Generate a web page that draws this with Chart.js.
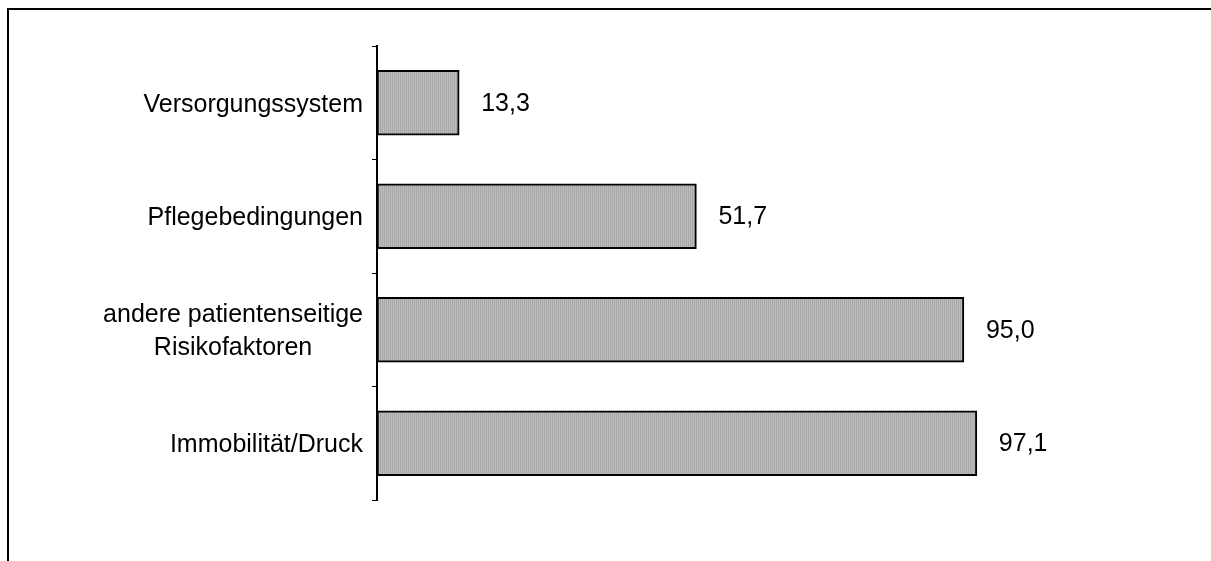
<!DOCTYPE html>
<html lang="de">
<head>
  <meta charset="UTF-8">
  <title>Risikofaktoren</title>
  <script src="https://cdn.jsdelivr.net/npm/chart.js"></script>
  <style>
    body {
      margin: 0;
      background: #fff;
      overflow: hidden;
    }
    .frame {
      position: absolute;
      left: 7px;
      top: 8px;
      width: 1300px;
      height: 700px;
      border-top: 2px solid #000;
      border-left: 2px solid #000;
    }
    .wrap {
      position: absolute;
      left: 0;
      top: 0;
      width: 1211px;
      height: 561px;
    }
  </style>
</head>
<body>

<div class="frame"></div>
<div class="wrap"><canvas id="chart" width="1211" height="561"></canvas></div>

<script>
  // data
  const categories = [
    'Versorgungssystem',
    'Pflegebedingungen',
    ['andere patientenseitige', 'Risikofaktoren'],
    'Immobilität/Druck'
  ];
  const values = [13.3, 51.7, 95.0, 97.1];

  const FONT = '25px "Liberation Sans", Arial, sans-serif';

  // grey fill with fine vertical lines
  function makeHatch(ctx) {
    const c = document.createElement('canvas');
    c.width = 2;
    c.height = 2;
    const p = c.getContext('2d');
    p.fillStyle = '#bcbcbc';
    p.fillRect(0, 0, 2, 2);
    p.fillStyle = '#a9a9a9';
    p.fillRect(0, 0, 1, 2);
    return ctx.createPattern(c, 'repeat');
  }

  // category labels, lines of a label centred on its widest line
  const catLabels = {
    id: 'catLabels',
    afterDraw(chart) {
      const ctx = chart.ctx;
      const y = chart.scales.y;
      const right = chart.chartArea.left - 14;
      ctx.save();
      ctx.font = FONT;
      ctx.fillStyle = '#000';
      ctx.textBaseline = 'middle';
      ctx.textAlign = 'center';
      categories.forEach((lab, i) => {
        const lines = Array.isArray(lab) ? lab : [lab];
        const widest = Math.max(...lines.map(l => ctx.measureText(l).width));
        const cx = right - widest / 2;
        const lh = 33;
        const cy = y.getPixelForValue(i) + 2;
        lines.forEach((l, k) => {
          ctx.fillText(l, cx, cy + (k - (lines.length - 1) / 2) * lh);
        });
      });
      ctx.restore();
    }
  };

  // value labels right of the bars, decimal comma
  const valueLabels = {
    id: 'valueLabels',
    afterDatasetsDraw(chart) {
      const ctx = chart.ctx;
      const meta = chart.getDatasetMeta(0);
      ctx.save();
      ctx.font = FONT;
      ctx.fillStyle = '#000';
      ctx.textBaseline = 'middle';
      ctx.textAlign = 'left';
      meta.data.forEach((bar, i) => {
        const txt = values[i].toFixed(1).replace('.', ',');
        ctx.fillText(txt, bar.x + 22, bar.y + 1);
      });
      ctx.restore();
    }
  };

  const canvas = document.getElementById('chart');
  const ctx = canvas.getContext('2d');

  new Chart(ctx, {
    type: 'bar',
    data: {
      labels: categories,
      datasets: [{
        data: values,
        backgroundColor: makeHatch(ctx),
        borderColor: '#000',
        borderWidth: 2,
        borderSkipped: false,
        barThickness: 65
      }]
    },
    options: {
      indexAxis: 'y',
      responsive: false,
      animation: false,
      events: [],
      layout: {
        padding: { left: 372, top: 46, bottom: 61, right: 0 }
      },
      plugins: {
        legend: { display: false },
        tooltip: { enabled: false }
      },
      scales: {
        x: {
          display: false,
          min: 0,
          max: 135
        },
        y: {
          grid: {
            display: true,
            drawOnChartArea: false,
            drawTicks: true,
            tickLength: 5,
            color: '#000',
            lineWidth: 1
          },
          border: { display: true, color: '#000', width: 2 },
          ticks: { display: false }
        }
      }
    },
    plugins: [catLabels, valueLabels]
  });
</script>

</body>
</html>
